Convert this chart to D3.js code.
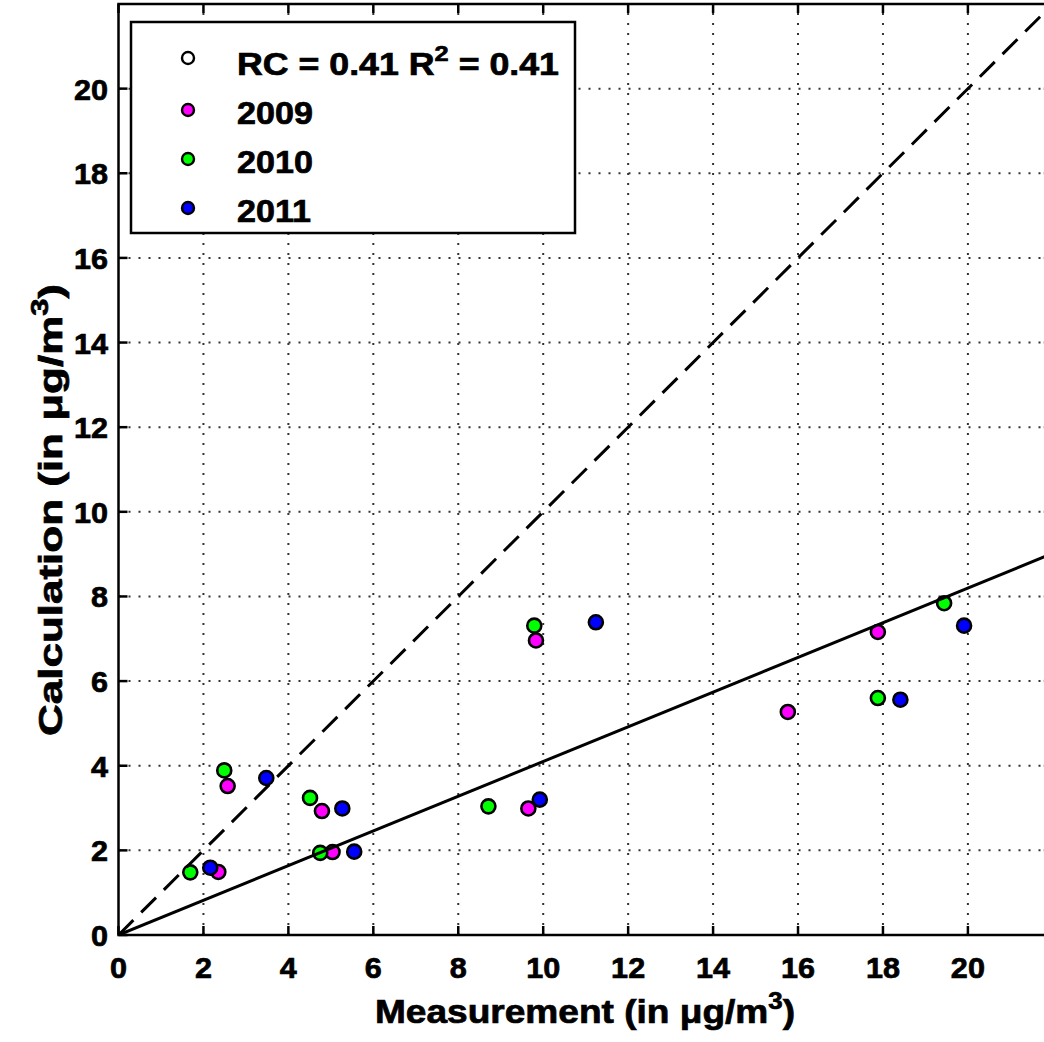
<!DOCTYPE html>
<html>
<head>
<meta charset="utf-8">
<script src="https://cdn.jsdelivr.net/npm/d3@7"></script>
<style>
  html, body { margin: 0; padding: 0; background: #fff; }
  svg { display: block; }
  text { font-family: "Liberation Sans", Arial, Helvetica, sans-serif; font-weight: bold; fill: #000; stroke: #000; stroke-width: 0.7px; }
</style>
</head>
<body>
<svg id="chart" width="1044" height="1042"></svg>
<script>
// ---- data ----
const xTicks = [0, 2, 4, 6, 8, 10, 12, 14, 16, 18, 20];
const yTicks = [0, 2, 4, 6, 8, 10, 12, 14, 16, 18, 20];
const years = ["2009", "2010", "2011"];
const yearColors = ["#ff00ff", "#00ff00", "#0000ff"];
const meas2009 = [2.35, 2.57, 4.79, 5.04, 9.65, 9.83, 15.76, 17.88];
const calc2009 = [1.49, 3.52, 2.93, 1.96, 2.99, 6.96, 5.27, 7.16];
const meas2010 = [1.69, 2.49, 4.51, 4.75, 8.71, 9.79, 17.88, 19.44];
const calc2010 = [1.48, 3.89, 3.24, 1.94, 3.04, 7.31, 5.60, 7.84];
const meas2011 = [2.16, 3.48, 5.27, 5.55, 9.92, 11.24, 18.41, 19.91];
const calc2011 = [1.59, 3.71, 2.99, 1.97, 3.20, 7.39, 5.56, 7.31];
const slopeRC = 0.41;
const legendLabels = ["RC = 0.41 R", "2009", "2010", "2011"];

const seriesX = [meas2009, meas2010, meas2011];
const seriesY = [calc2009, calc2010, calc2011];

// ---- layout ----
const svg = d3.select("#chart");
const x = d3.scaleLinear().domain([0, 22]).range([118.5, 118.5 + 22 * 42.47]);
const y = d3.scaleLinear().domain([0, 22]).range([935, 4]);
const x0 = x(0), x1 = x(22), y0 = y(0), y1 = y(22);

function stretch(sel, factor) {
  sel.each(function() {
    const w = this.getComputedTextLength();
    d3.select(this).attr("textLength", w * factor).attr("lengthAdjust", "spacingAndGlyphs");
  });
}

svg.append("defs").append("clipPath").attr("id", "clip")
  .append("rect").attr("x", x0).attr("y", y1).attr("width", x1 - x0).attr("height", y0 - y1);

const plot = svg.append("g").attr("clip-path", "url(#clip)");

// grid (dotted)
plot.append("g").selectAll("line").data(xTicks.filter(d => d > 0)).join("line")
  .attr("x1", d => x(d)).attr("x2", d => x(d)).attr("y1", y0).attr("y2", y1)
  .attr("stroke", "#333").attr("stroke-width", 2).attr("stroke-dasharray", "2,8");
plot.append("g").selectAll("line").data(yTicks.filter(d => d > 0)).join("line")
  .attr("y1", d => y(d)).attr("y2", d => y(d)).attr("x1", x0).attr("x2", x1)
  .attr("stroke", "#333").attr("stroke-width", 2).attr("stroke-dasharray", "2,8");

// markers
years.forEach((yr, i) => {
  plot.append("g").selectAll("circle").data(seriesX[i].map((v, j) => [v, seriesY[i][j]])).join("circle")
    .attr("cx", d => x(d[0])).attr("cy", d => y(d[1])).attr("r", 7)
    .attr("fill", yearColors[i]).attr("stroke", "#000").attr("stroke-width", 2.6);
});

// 1:1 dashed line
plot.append("line")
  .attr("x1", x(0)).attr("y1", y(0)).attr("x2", x(22)).attr("y2", y(22))
  .attr("stroke", "#000").attr("stroke-width", 3).attr("stroke-dasharray", "21,11");
// regression line
plot.append("line")
  .attr("x1", x(0)).attr("y1", y(0)).attr("x2", x(22)).attr("y2", y(22 * slopeRC))
  .attr("stroke", "#000").attr("stroke-width", 3);

// axes box
svg.append("rect").attr("x", x0).attr("y", y1).attr("width", x1 - x0).attr("height", y0 - y1)
  .attr("fill", "none").attr("stroke", "#000").attr("stroke-width", 2.5);

// ticks (inward, all sides)
const tl = 9;
const tg = svg.append("g").attr("stroke", "#000").attr("stroke-width", 2.5);
xTicks.forEach(d => {
  tg.append("line").attr("x1", x(d)).attr("x2", x(d)).attr("y1", y0).attr("y2", y0 - tl);
  tg.append("line").attr("x1", x(d)).attr("x2", x(d)).attr("y1", y1).attr("y2", y1 + tl);
});
yTicks.forEach(d => {
  tg.append("line").attr("y1", y(d)).attr("y2", y(d)).attr("x1", x0).attr("x2", x0 + tl);
  tg.append("line").attr("y1", y(d)).attr("y2", y(d)).attr("x1", x1).attr("x2", x1 - tl);
});

// tick labels
const xl = svg.append("g").selectAll("text").data(xTicks).join("text")
  .attr("x", d => x(d)).attr("y", 978).attr("text-anchor", "middle")
  .attr("font-size", 30).text(d => d);
stretch(xl, 1.02);
const yl = svg.append("g").selectAll("text").data(yTicks).join("text")
  .attr("x", 108).attr("y", d => y(d) + 11).attr("text-anchor", "end")
  .attr("font-size", 30).text(d => d);
stretch(yl, 1.02);

// axis titles
const xt = svg.append("text").attr("x", 585).attr("y", 1023).attr("text-anchor", "middle").attr("font-size", 33);
xt.append("tspan").text("Measurement (in \u03bcg/m");
xt.append("tspan").attr("font-size", 23).attr("dy", -14).text("3");
xt.append("tspan").attr("dy", 14).text(")");
xt.attr("textLength", 420).attr("lengthAdjust", "spacingAndGlyphs");

const yt = svg.append("text").attr("transform", "translate(62,510) rotate(-90)")
  .attr("text-anchor", "middle").attr("font-size", 33);
yt.append("tspan").text("Calculation (in \u03bcg/m");
yt.append("tspan").attr("font-size", 23).attr("dy", -14).text("3");
yt.append("tspan").attr("dy", 14).text(")");
yt.attr("textLength", 452).attr("lengthAdjust", "spacingAndGlyphs");

// legend
const lg = svg.append("g");
lg.append("rect").attr("x", 131).attr("y", 22).attr("width", 444).attr("height", 211)
  .attr("fill", "#fff").attr("stroke", "#000").attr("stroke-width", 2.5);
const legendFill = ["#fff"].concat(yearColors);
const baselines = [75, 124, 173, 222];
legendLabels.forEach((lab, i) => {
  lg.append("circle").attr("cx", 188).attr("cy", baselines[i] - (i === 0 ? 17 : 14)).attr("r", 6)
    .attr("fill", legendFill[i]).attr("stroke", "#000").attr("stroke-width", 2.4);
  const t = lg.append("text").attr("x", 237).attr("y", baselines[i]).attr("font-size", 31);
  if (i === 0) {
    t.append("tspan").text(lab);
    t.append("tspan").attr("font-size", 22).attr("dy", -14).text("2");
    t.append("tspan").attr("dy", 14).text(" = 0.41");
    t.attr("textLength", 322).attr("lengthAdjust", "spacingAndGlyphs");
  } else {
    t.text(lab);
    stretch(t, 1.1);
  }
});
</script>
</body>
</html>
